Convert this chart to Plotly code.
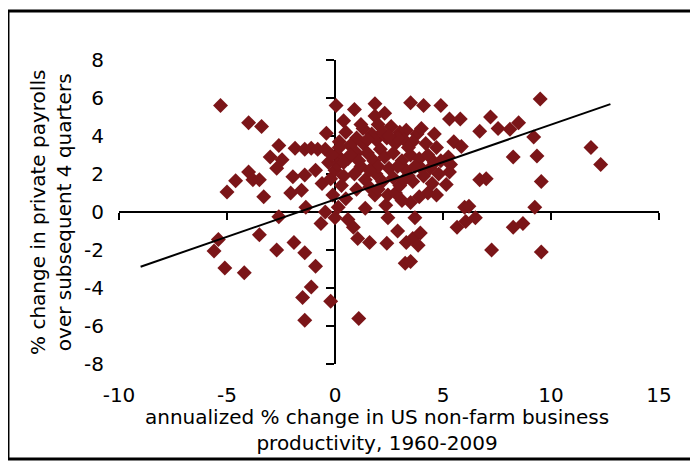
import plotly.graph_objects as go

# ---- data (x: productivity %, y: payrolls %) ----
prod_x = [
    -5.3, -4.0, -3.4, -2.6, -3.0, -2.45, -2.7, -1.85, -1.4, -1.1, -0.8, -0.45, -0.4,
    -4.0, -3.8, -3.5, -4.6, -5.0, -3.3, -1.95, -1.4, -0.9, -0.6, -2.05, -1.55, -0.2,
    -1.35, -2.6, -0.45, -0.65, -5.4, -5.6, -3.5, -2.7, -1.9, -1.4, -0.9, -5.1, -4.2,
    -1.1, -1.5, -1.4, -0.2,
    5.3, 5.8, 6.7, 7.2, 7.55, 8.1, 8.5, 9.5, 9.2, 9.35, 8.25, 11.85, 12.3, 9.55,
    6.7, 7.0, 9.25, 6.0, 6.2, 6.5, 6.05, 5.65, 8.25, 8.7, 7.25, 9.55, 5.5, 5.85, 4.6,
    5.25, 5.35, 5.3, 5.15, 4.9, 4.1, 3.5, 1.85, 1.85, 2.3, 0.05, 0.9, 0.4,
    4.3, 3.5, 3.7, 2.45, 1.4, 2.9, 2.4, 1.6, 1.05, 3.3, 3.6, 3.95, 3.85, 3.25, 3.5,
    1.1, 0.15, 0.0, 0.6, 0.85, 2.35, 2.45, 2.8, 1.85,
    1.3, 2.0, 2.6, 3.0, 3.3, 3.8, 4.0, 1.7, 0.5, 1.0,
    0.2, 0.7, 1.3, 1.9, 2.4, 2.8, 3.2, 3.6, 4.2, 4.7, 2.1, 1.5,
    0.1, 0.6, 1.0, 1.8, 2.3, 2.7, 3.1, 3.5, 3.9, 4.3, 4.6, 1.2, 2.5, 3.3, 4.0, 4.9,
    0.0, 0.4, 0.9, 1.4, 1.9, 2.2, 2.7, 3.0, 3.6, 4.1, 4.5, 0.3, 1.0, 1.6, 2.0, 4.8, 3.4,
    -0.1, 0.5, 3.9, 4.7, 3.1, 0.2, 0.1, -0.3, -0.15,
    1.5, 2.2, 2.9, 3.4, 1.1, 2.0, 2.9, 3.7, 0.7, 1.6, 0.4, 3.2, 4.4, 2.5, 1.2,
]
pay_y = [
    5.6, 4.7, 4.5, 3.5, 2.9, 2.75, 2.3, 3.35, 3.3, 3.35, 3.3, 3.3, 4.15,
    2.1, 1.7, 1.7, 1.65, 1.05, 0.8, 1.85, 1.95, 2.2, 1.5, 1.0, 1.15, 1.75,
    0.25, -0.25, 0.0, -0.6, -1.45, -2.05, -1.2, -2.0, -1.6, -2.15, -2.85, -2.95, -3.2,
    -3.95, -4.5, -5.7, -4.7,
    4.9, 4.9, 4.25, 5.0, 4.4, 4.35, 4.7, 5.95, 3.95, 2.95, 2.9, 3.4, 2.5, 1.6,
    1.7, 1.75, 0.25, 0.25, 0.3, -0.3, -0.5, -0.8, -0.8, -0.6, -2.0, -2.1, 3.7, 3.45, 4.1,
    2.9, 2.5, 2.1, 1.45, 5.6, 5.6, 5.75, 5.7, 5.05, 5.2, 5.6, 5.4, 4.8,
    1.0, 0.5, -0.3, -0.3, 0.2, -1.0, -1.65, -1.6, -1.4, -1.6, -1.4, -1.1, -1.75, -2.7, -2.6,
    -5.6, 0.25, -0.3, -0.4, -0.8, 0.35, 0.9, 1.0, 0.9,
    4.4, 4.6, 4.5, 4.2, 4.3, 4.1, 4.4, 4.1, 4.2, 3.9,
    3.7, 3.5, 3.6, 3.8, 3.9, 3.6, 3.8, 3.7, 3.6, 3.4, 3.3, 3.1,
    3.0, 2.8, 3.1, 2.7, 2.9, 3.1, 2.7, 3.0, 2.8, 3.0, 2.6, 2.4, 2.3, 2.2, 2.3, 2.7,
    2.2, 1.9, 2.0, 1.7, 2.0, 1.6, 1.8, 1.4, 1.6, 1.9, 1.5, 1.4, 1.2, 1.3, 1.2, 2.0, 1.9,
    0.9, 0.7, 0.8, 0.9, 0.6, 3.4, 2.5, 2.6, 3.0,
    3.8, 4.2, 3.9, 3.4, 2.7, 2.4, 2.4, 2.4, 3.0, 2.2, 2.6, 1.7, 2.3, 4.0, 4.6,
]

# fitted trend line (end points)
trend_x = [-9.0, 12.75]
trend_y = [-2.88, 5.68]

x_ticks = [-10, -5, 0, 5, 10, 15]
y_ticks = [-8, -6, -4, -2, 0, 2, 4, 6, 8]

x_title = "annualized % change in US non-farm business<br>productivity, 1960-2009"
y_title = "% change in private payrolls<br>over subsequent 4 quarters"

FONT = "DejaVu Sans"
FS = 20
MARK = "#7b1518"

fig = go.Figure()
fig.add_trace(go.Scatter(
    x=prod_x, y=pay_y, mode="markers",
    marker=dict(symbol="diamond", size=11.5, color=MARK, line=dict(width=0)),
    hoverinfo="skip", showlegend=False,
))
fig.add_trace(go.Scatter(
    x=trend_x, y=trend_y, mode="lines",
    line=dict(color="black", width=2), hoverinfo="skip", showlegend=False,
))

fig.update_layout(
    width=690, height=454,
    margin=dict(l=111, r=39, t=52, b=98),
    paper_bgcolor="white", plot_bgcolor="white",
    font=dict(family=FONT, size=FS, color="black"),
    xaxis=dict(
        range=[-10, 15], tickvals=x_ticks, ticktext=[str(v) for v in x_ticks],
        anchor="free", position=0.5, showline=True, linecolor="black", linewidth=2,
        ticks="outside", ticklen=7, tickwidth=2, tickcolor="black",
        ticklabelstandoff=158, showgrid=False, zeroline=False, layer="below traces",
        tickfont=dict(family=FONT, size=FS),
    ),
    yaxis=dict(
        range=[-8, 8], tickvals=y_ticks, ticktext=[str(v) for v in y_ticks],
        anchor="free", position=0.4, showline=True, linecolor="black", linewidth=2,
        ticks="outside", ticklen=8, tickwidth=2, tickcolor="black",
        ticklabelstandoff=218, showgrid=False, zeroline=False, layer="below traces",
        tickfont=dict(family=FONT, size=FS),
    ),
    annotations=[
        dict(text=x_title, xref="paper", yref="paper", x=0.478, y=-0.217,
             xanchor="center", yanchor="middle", showarrow=False,
             font=dict(family=FONT, size=FS)),
        dict(text=y_title, xref="paper", yref="paper", x=-0.126, y=0.5,
             xanchor="center", yanchor="middle", showarrow=False, textangle=-90,
             font=dict(family=FONT, size=FS)),
    ],
    shapes=[
        dict(type="rect", xref="paper", yref="paper",
             x0=-0.2056, x1=1.0667, y0=-0.3125, y1=1.1612,
             line=dict(color="black", width=3), fillcolor="rgba(0,0,0,0)",
             layer="below"),
    ],
)

fig.write_html("out.html")
